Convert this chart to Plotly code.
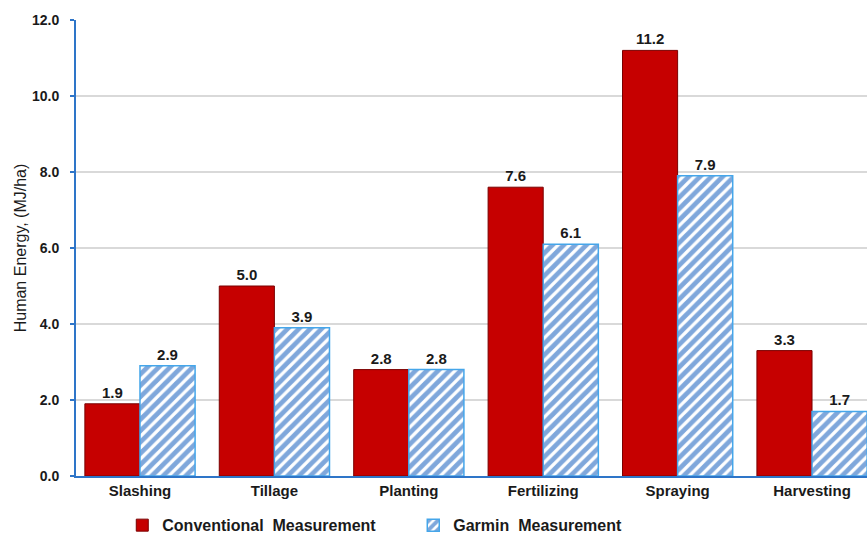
import plotly.graph_objects as go

# Field operations and the human energy measured for each (MJ/ha)
operations = ["Slashing", "Tillage", "Planting", "Fertilizing", "Spraying", "Harvesting"]
conventional = [1.9, 5.0, 2.8, 7.6, 11.2, 3.3]
garmin = [2.9, 3.9, 2.8, 6.1, 7.9, 1.7]
y_ticks = [0, 2, 4, 6, 8, 10, 12]

AXIS_BLUE = "#2e75c8"
FONT = "Liberation Sans, Arial, sans-serif"
TEXT = "#1a1a1a"

fig = go.Figure()

fig.add_trace(go.Bar(
    name="Conventional  Measurement",
    x=operations,
    y=conventional,
    marker=dict(color="#c60000", line=dict(color="#7a0000", width=1)),
    text=conventional,
    texttemplate="%{y:.1f}",
    textposition="outside",
    textfont=dict(family=FONT, size=15, color=TEXT, weight="bold"),
    cliponaxis=False,
))

fig.add_trace(go.Bar(
    name="Garmin  Measurement",
    x=operations,
    y=garmin,
    marker=dict(
        color="white",
        line=dict(color="#45a6ea", width=1.5),
        pattern=dict(shape="/", fgcolor="#0050b8", bgcolor="white", size=8, solidity=0.6),
    ),
    text=garmin,
    texttemplate="%{y:.1f}",
    textposition="outside",
    textfont=dict(family=FONT, size=15, color=TEXT, weight="bold"),
    cliponaxis=False,
))

fig.update_layout(
    width=867,
    height=536,
    margin=dict(l=76, r=0, t=20, b=60, autoexpand=False),
    paper_bgcolor="white",
    plot_bgcolor="white",
    barmode="group",
    bargap=0.18,
    bargroupgap=0,
    font=dict(family=FONT, color=TEXT),
    showlegend=True,
    legend=dict(
        orientation="h",
        x=0.0585,
        xanchor="left",
        y=-0.108,
        yanchor="middle",
        entrywidth=246,
        font=dict(family=FONT, size=16, color=TEXT, weight="bold"),
        itemwidth=30,
        traceorder="normal",
    ),
    xaxis=dict(
        range=[-0.476, 5.409],
        showline=True,
        linecolor=AXIS_BLUE,
        linewidth=2,
        showgrid=False,
        ticks="",
        tickfont=dict(family=FONT, size=15, color=TEXT, weight="bold"),
    ),
    yaxis=dict(
        range=[0, 12],
        tickvals=y_ticks,
        ticktext=[f"{v:.1f}" for v in y_ticks],
        showline=True,
        linecolor=AXIS_BLUE,
        linewidth=2,
        ticks="outside",
        ticklen=4,
        tickcolor=AXIS_BLUE,
        tickwidth=2,
        ticklabelstandoff=8,
        showgrid=True,
        gridcolor="#d9d9d9",
        gridwidth=1.5,
        zeroline=False,
        tickfont=dict(family=FONT, size=14, color=TEXT, weight="bold"),
        title=dict(text="Human Energy, (MJ/ha)", font=dict(family=FONT, size=16, color=TEXT), standoff=1),
    ),
)

fig.write_html("out.html")
